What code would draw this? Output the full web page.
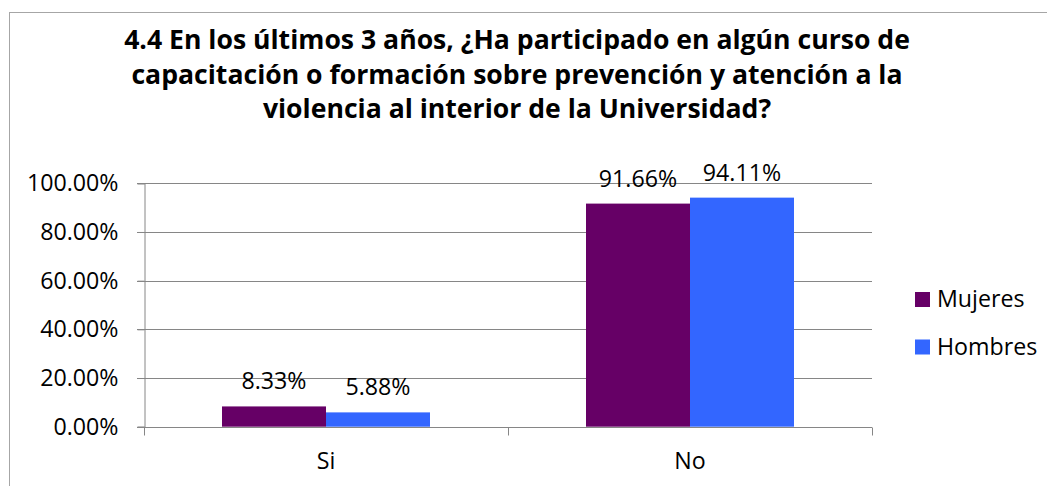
<!DOCTYPE html>
<html>
<head>
<meta charset="utf-8">
<script src="https://cdn.jsdelivr.net/npm/d3@7"></script>
<style>
  body { margin: 0; background: #fff; }
  svg text { font-family: "Open Sans", sans-serif; fill: #000; }
</style>
</head>
<body>
<div id="d3-container"></div>
<script>
/**
 * CONSTANTS AND GLOBALS
 * */
const width = 1047,
  height = 486,
  margin = { top: 183.3, bottom: 59.3, left: 144, right: 175 },
  fontSize = 23.2;

// data
const categories = ["Si", "No"];
const series = ["Mujeres", "Hombres"];
const mujeres = [0.0833, 0.9166];
const hombres = [0.0588, 0.9411];
const yTicks = [0, 0.2, 0.4, 0.6, 0.8, 1.0];
const titleLines = [
  "4.4 En los últimos 3 años, ¿Ha participado en algún curso de",
  "capacitación o formación sobre prevención y atención a la",
  "violencia al interior de la Universidad?"
];
const colors = { Mujeres: "#660066", Hombres: "#3366ff" };

const rows = categories.map((c, i) => ({
  cat: c,
  values: [
    { key: "Mujeres", value: mujeres[i] },
    { key: "Hombres", value: hombres[i] }
  ]
}));

const svg = d3
  .select("#d3-container")
  .append("svg")
  .attr("width", width)
  .attr("height", height);

// chart border (runs off the right and bottom of the picture)
svg
  .append("rect")
  .attr("x", 9.5)
  .attr("y", 12.5)
  .attr("width", width + 20)
  .attr("height", height + 20)
  .attr("fill", "none")
  .attr("stroke", "#a6a6a6")
  .attr("stroke-width", 1);

// SCALES
const xScale = d3
  .scaleBand()
  .domain(categories)
  .range([margin.left, width - margin.right]);

const xInner = d3
  .scaleBand()
  .domain(series)
  .range([0, xScale.bandwidth()])
  .paddingInner(0)
  .paddingOuter(0.75);

const yScale = d3
  .scaleLinear()
  .domain([0, 1])
  .range([height - margin.bottom, margin.top]);

// TITLE
svg
  .append("g")
  .selectAll("text")
  .data(titleLines)
  .join("text")
  .attr("x", 517)
  .attr("y", (d, i) => 49 + i * 34.5)
  .attr("text-anchor", "middle")
  .attr("font-size", 26.6)
  .attr("font-weight", "bold")
  .text(d => d);

// GRIDLINES
svg
  .append("g")
  .selectAll("line")
  .data(yTicks.filter(d => d > 0))
  .join("line")
  .attr("x1", margin.left - 7)
  .attr("x2", width - margin.right)
  .attr("y1", d => Math.round(yScale(d)) + 0.5)
  .attr("y2", d => Math.round(yScale(d)) + 0.5)
  .attr("stroke", "#868686");

// Y AXIS
const yAxis = d3
  .axisLeft(yScale)
  .tickValues(yTicks)
  .tickFormat(d => (d * 100).toFixed(2) + "%")
  .tickSize(7)
  .tickPadding(19);

svg
  .append("g")
  .attr("class", "axis y-axis")
  .attr("transform", `translate(${margin.left + 0.5},0)`)
  .call(yAxis)
  .call(g => g.select(".domain").attr("stroke", "#868686"))
  .call(g => g.selectAll(".tick line").attr("stroke", "#868686"))
  .call(g =>
    g.selectAll(".tick text")
      .attr("font-size", fontSize)
      .attr("font-family", "'Open Sans', sans-serif")
  );

// BARS
const groups = svg
  .append("g")
  .selectAll("g")
  .data(rows)
  .join("g")
  .attr("transform", d => `translate(${xScale(d.cat)},0)`);

groups
  .selectAll("rect")
  .data(d => d.values)
  .join("rect")
  .attr("x", d => xInner(d.key))
  .attr("width", xInner.bandwidth())
  .attr("y", d => yScale(d.value))
  .attr("height", d => yScale(0) - yScale(d.value))
  .attr("fill", d => colors[d.key]);

// data labels
groups
  .selectAll("text")
  .data(d => d.values)
  .join("text")
  .attr("x", d => xInner(d.key) + xInner.bandwidth() / 2)
  .attr("y", d => yScale(d.value) - 17)
  .attr("text-anchor", "middle")
  .attr("font-size", fontSize)
  .text(d => (d.value * 100).toFixed(2) + "%");

// X AXIS
const xAxisLine = svg
  .append("g")
  .attr("class", "axis x-axis")
  .attr("transform", `translate(0,${Math.round(yScale(0)) + 0.5})`);

xAxisLine
  .append("line")
  .attr("x1", margin.left - 7)
  .attr("x2", width - margin.right)
  .attr("stroke", "#868686");

xAxisLine
  .selectAll(".xtick")
  .data([margin.left, ...categories.map(c => xScale(c) + xScale.bandwidth())])
  .join("line")
  .attr("class", "xtick")
  .attr("x1", d => Math.round(d) + 0.5)
  .attr("x2", d => Math.round(d) + 0.5)
  .attr("y1", 0)
  .attr("y2", 8)
  .attr("stroke", "#868686");

xAxisLine
  .selectAll("text")
  .data(categories)
  .join("text")
  .attr("x", d => xScale(d) + xScale.bandwidth() / 2)
  .attr("y", 41)
  .attr("text-anchor", "middle")
  .attr("font-size", fontSize)
  .text(d => d);

// LEGEND
const legend = svg
  .append("g")
  .selectAll("g")
  .data(series)
  .join("g")
  .attr("transform", (d, i) => `translate(915,${292 + i * 47.5})`);

legend
  .append("rect")
  .attr("width", 15)
  .attr("height", 15)
  .attr("fill", d => colors[d]);

legend
  .append("text")
  .attr("x", 22)
  .attr("y", 15)
  .attr("font-size", fontSize)
  .text(d => d);
</script>
</body>
</html>
